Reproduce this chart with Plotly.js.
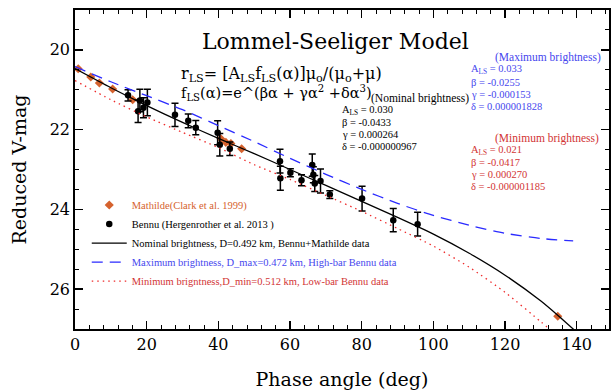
<!DOCTYPE html>
<html>
<head>
<meta charset="utf-8">
<script src="https://cdn.plot.ly/plotly-3.0.1.min.js"></script>
<style>html,body{margin:0;padding:0;background:#fff}#chart{width:611px;height:392px}</style>
</head>
<body>
<div id="chart"></div>
<script>
// ---- data ----
const bennuAlpha = [14.8, 17.6, 18.1, 19.1, 20.2, 27.9, 31.6, 33.7, 39.8, 40.4, 43.2, 57.2, 57.3, 60.1, 63.2, 66.2, 66.5, 66.9, 68.5, 71.1, 80.1, 88.8, 95.6];
const bennuMag   = [21.14, 21.54, 21.27, 21.45, 21.32, 21.63, 21.78, 21.95, 22.08, 22.38, 22.48, 22.79, 23.22, 23.08, 23.27, 22.89, 23.13, 23.35, 23.29, 23.63, 23.73, 24.27, 24.37];
const bennuErr   = [0.14, 0.28, 0.28, 0.25, 0.33, 0.29, 0.17, 0.18, 0.30, 0.28, 0.17, 0.30, 0.30, 0.10, 0.14, 0.28, 0.20, 0.20, 0.30, 0.10, 0.31, 0.29, 0.30];

const mathildeAlpha = [0.9, 4.4, 6.8, 10.5, 16.1, 40.7, 42.1, 43.5, 46.5, 134.7];
const mathildeMag   = [20.475, 20.68, 20.83, 20.98, 21.25, 22.23, 22.32, 22.35, 22.48, 26.68];

const nominalAlpha = [0, 10, 20, 30, 40, 50, 60, 70, 80, 90, 100, 110, 120, 130, 135, 140];
const nominalMag   = [20.47, 20.95, 21.40, 21.82, 22.22, 22.60, 23.00, 23.40, 23.80, 24.20, 24.62, 25.10, 25.65, 26.30, 26.68, 27.08];

const maxAlpha = [0, 10, 20, 30, 40, 50, 60, 70, 80, 90, 100, 110, 120, 130, 139];
const maxMag   = [20.42, 20.80, 21.15, 21.50, 21.90, 22.30, 22.72, 23.12, 23.50, 23.85, 24.15, 24.40, 24.60, 24.73, 24.79];

const minAlpha = [0, 10, 20, 30, 40, 50, 60, 70, 80, 90, 100, 110, 120, 130, 133];
const minMag   = [20.77, 21.25, 21.68, 22.07, 22.45, 22.88, 23.25, 23.65, 24.05, 24.48, 24.92, 25.45, 26.08, 26.82, 27.05];

const xTickVals = [0, 20, 40, 60, 80, 100, 120, 140];
const yTickVals = [20, 22, 24, 26];

const names = {
  mathilde: 'Mathilde(Clark et al. 1999)',
  bennu: 'Bennu (Hergenrother et al. 2013 )',
  nominal: 'Nominal brightness, D=0.492 km, Bennu+Mathilde data',
  max: 'Maximum brightness, D_max=0.472 km, High-bar Bennu data',
  min: 'Minimum brigntness,D_min=0.512 km, Low-bar Bennu data'
};

// ---- styling ----
const SERIF = 'DejaVu Serif, serif';
const SMALL = 'Liberation Serif, serif';
const ORANGE = '#d5622e';
const BLUE = '#2a2aff';
const BLUE_T = '#4646ee';
const RED = '#ee2a2a';
const RED_T = '#d23434';

const traces = [
  {x: mathildeAlpha, y: mathildeMag, type: 'scatter', mode: 'markers', name: '<span style="color:' + ORANGE + '">' + names.mathilde + '</span>',
   marker: {symbol: 'diamond', size: 7, color: ORANGE}, legendrank: 1},
  {x: bennuAlpha, y: bennuMag, type: 'scatter', mode: 'markers', name: names.bennu,
   marker: {symbol: 'circle', size: 6.5, color: '#000'},
   error_y: {type: 'data', array: bennuErr, visible: true, color: '#000', thickness: 1.5, width: 3.5}, legendrank: 2},
  {x: nominalAlpha, y: nominalMag, type: 'scatter', mode: 'lines', name: names.nominal,
   line: {color: '#000', width: 1.3, shape: 'spline', smoothing: 0.6}, legendrank: 3},
  {x: maxAlpha, y: maxMag, type: 'scatter', mode: 'lines', name: '<span style="color:' + BLUE_T + '">' + names.max + '</span>',
   line: {color: BLUE, width: 1.3, dash: '11px,7px', shape: 'spline', smoothing: 0.6}, legendrank: 4},
  {x: minAlpha, y: minMag, type: 'scatter', mode: 'lines', name: '<span style="color:' + RED_T + '">' + names.min + '</span>',
   line: {color: RED, width: 1.3, dash: '1.5px,4px', shape: 'spline', smoothing: 0.6}, legendrank: 5}
];

function ann(px, py, text, opts) {
  return Object.assign({x: px, y: py, xref: 'x', yref: 'y', text: text, showarrow: false, borderpad: 0,
    xanchor: 'left', yanchor: 'middle', align: 'left', font: {family: SMALL, size: 10.5, color: '#000'}}, opts || {});
}
// convert reference pixel positions to data units for text placement
function ax(px) { return (px - 75) / 3.5836; }
function ay(py) { return 19 + (py - 10) / 39.9; }
function pf(color) { return {family: SMALL, size: 10.5, color: color}; }

const formula = '<span style="font-size:16px">r<sub>LS</sub>= [A<sub>LS</sub>f<sub>LS</sub>(α)]μ<sub>o</sub>/(μ<sub>o</sub>+μ)</span>' +
  '<br>f<sub>LS</sub>(α)=e^(βα + γα<sup>2</sup> +δα<sup>3</sup>)';

const annotations = [
  ann(ax(335), ay(42), 'Lommel-Seeliger Model', {xanchor: 'center', font: {family: SERIF, size: 22, color: '#000'}}),
  ann(ax(180), ay(84), formula, {font: {family: SERIF, size: 14.5, color: '#000'}}),
  ann(ax(370), ay(99), '(Nominal brightness)', {font: {family: SMALL, size: 11.5, color: '#000'}}),
  ann(ax(341), ay(110.5), 'A<sub>LS</sub> = 0.030', {font: pf('#000')}),
  ann(ax(341), ay(123), 'β = -0.0433', {font: pf('#000')}),
  ann(ax(341), ay(135), 'γ = 0.000264', {font: pf('#000')}),
  ann(ax(341), ay(147), 'δ = -0.000000967', {font: pf('#000')}),
  ann(ax(494), ay(57.5), '(Maximum brightness)', {font: {family: SMALL, size: 11.5, color: BLUE_T}}),
  ann(ax(470), ay(70), 'A<sub>LS</sub> = 0.033', {font: pf(BLUE_T)}),
  ann(ax(470), ay(82.5), 'β = -0.0255', {font: pf(BLUE_T)}),
  ann(ax(470), ay(94.5), 'γ = -0.000153', {font: pf(BLUE_T)}),
  ann(ax(470), ay(106.5), 'δ = 0.000001828', {font: pf(BLUE_T)}),
  ann(ax(494), ay(138.5), '(Minimum brightness)', {font: {family: SMALL, size: 11.5, color: RED_T}}),
  ann(ax(470), ay(150.5), 'A<sub>LS</sub> = 0.021', {font: pf(RED_T)}),
  ann(ax(470), ay(163), 'β = -0.0417', {font: pf(RED_T)}),
  ann(ax(470), ay(175), 'γ = 0.000270', {font: pf(RED_T)}),
  ann(ax(470), ay(187), 'δ = -0.000001185', {font: pf(RED_T)})
];

const axisCommon = {
  showgrid: false, zeroline: false, showline: true, linecolor: '#000', linewidth: 1.8,
  mirror: 'ticks', ticks: 'inside', ticklen: 8, tickwidth: 1.5, tickcolor: '#000',
  tickfont: {family: SERIF, size: 16, color: '#000'}
};

const layout = {
  width: 611, height: 392,
  margin: {l: 75, r: 2, t: 10, b: 63},
  paper_bgcolor: '#fff', plot_bgcolor: '#fff',
  showlegend: true,
  legend: {x: 0.022, y: 0.434, xanchor: 'left', yanchor: 'top', bgcolor: 'rgba(0,0,0,0)',
    font: {family: SMALL, size: 10.5, color: '#000'}, tracegroupgap: 0, itemwidth: 35},
  xaxis: Object.assign({}, axisCommon, {
    range: [0, 149], tickvals: xTickVals, ticktext: xTickVals.map(String),
    minor: {dtick: 4, tick0: 0, ticks: 'inside', ticklen: 4, tickwidth: 1, tickcolor: '#000'},
    title: {text: 'Phase angle (deg)', font: {family: SERIF, size: 19, color: '#000'}, standoff: 20}
  }),
  yaxis: Object.assign({}, axisCommon, {
    range: [27, 19], tickvals: yTickVals, ticktext: yTickVals.map(String),
    minor: {dtick: 0.5, tick0: 19, ticks: 'inside', ticklen: 4, tickwidth: 1, tickcolor: '#000'},
    title: {text: 'Reduced V-mag', font: {family: SERIF, size: 19, color: '#000'}, standoff: 18}
  }),
  annotations: annotations
};

Plotly.newPlot('chart', traces, layout, {displayModeBar: false, staticPlot: true});
</script>
</body>
</html>
